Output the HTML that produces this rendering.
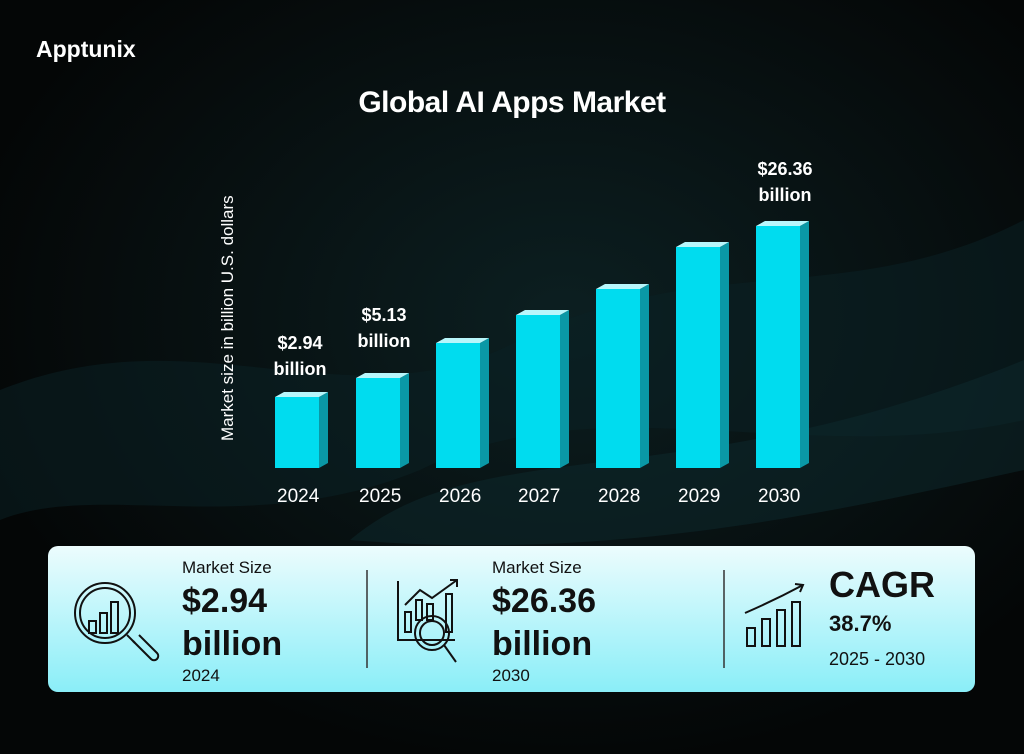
<!DOCTYPE html>
<html><head><meta charset="utf-8"><style>
*{margin:0;padding:0;box-sizing:border-box}
body{width:1024px;height:754px;overflow:hidden;background:#040606;font-family:"Liberation Sans",sans-serif;position:relative}
.t{position:absolute;color:#fff;font-weight:bold}
</style></head><body>
<svg width="1024" height="754" style="position:absolute;left:0;top:0">
<defs>
<radialGradient id="g1" cx="0.55" cy="0.42" r="0.6"><stop offset="0" stop-color="#0c1f21"/><stop offset="1" stop-color="#040606"/></radialGradient>
<linearGradient id="pn" x1="0" y1="0" x2="0" y2="1"><stop offset="0" stop-color="#ecfcfd"/><stop offset="1" stop-color="#8aeef8"/></linearGradient>
</defs>
<rect width="1024" height="754" fill="url(#g1)"/>
<path d="M0,390 C200,310 350,430 520,340 C700,250 850,310 1024,220 L1024,420 C800,470 600,380 420,470 C250,540 100,480 0,520Z" fill="#0b2124" opacity="0.55"/>
<path d="M350,540 C480,430 680,500 1024,360 L1024,470 C800,520 600,560 350,540Z" fill="#0e2a2d" opacity="0.5"/>
<g fill="#00dcef">
<rect x="275" y="397" width="44" height="71"/>
<rect x="356" y="378" width="44" height="90"/>
<rect x="436" y="343" width="44" height="125"/>
<rect x="516" y="315" width="44" height="153"/>
<rect x="596" y="289" width="44" height="179"/>
<rect x="676" y="247" width="44" height="221"/>
<rect x="756" y="226" width="44" height="242"/>
</g>
<g fill="#0a98a6">
<polygon points="319,397 328,392 328,463 319,468"/>
<polygon points="400,378 409,373 409,463 400,468"/>
<polygon points="480,343 489,338 489,463 480,468"/>
<polygon points="560,315 569,310 569,463 560,468"/>
<polygon points="640,289 649,284 649,463 640,468"/>
<polygon points="720,247 729,242 729,463 720,468"/>
<polygon points="800,226 809,221 809,463 800,468"/>
</g>
<g fill="#b8f6fb">
<polygon points="275,397 284,392 328,392 319,397"/>
<polygon points="356,378 365,373 409,373 400,378"/>
<polygon points="436,343 445,338 489,338 480,343"/>
<polygon points="516,315 525,310 569,310 560,315"/>
<polygon points="596,289 605,284 649,284 640,289"/>
<polygon points="676,247 685,242 729,242 720,247"/>
<polygon points="756,226 765,221 809,221 800,226"/>
</g>
<rect x="48" y="546" width="927" height="146" rx="10" fill="url(#pn)"/>
<line x1="367" y1="570" x2="367" y2="668" stroke="#333" stroke-width="1.5"/>
<line x1="724" y1="570" x2="724" y2="668" stroke="#333" stroke-width="1.5"/>
<g fill="none" stroke="#111" stroke-width="2">
<circle cx="105" cy="613" r="30"/><circle cx="105" cy="613" r="25"/>
<line x1="127" y1="635" x2="135" y2="643"/>
<path d="M133,641 L151,659 a4,4 0 0 0 6,-6 L139,635"/>
<rect x="89" y="621" width="7" height="12"/><rect x="100" y="613" width="7" height="20"/><rect x="111" y="602" width="7" height="31"/>
<path d="M398,581 L398,640 L455,640"/>
<rect x="405" y="612" width="6" height="20"/><rect x="416" y="600" width="6" height="20"/><rect x="427" y="604" width="6" height="16"/><rect x="446" y="594" width="6" height="38"/>
<path d="M405,605 L420,590 L432,598 L457,580"/><path d="M450,580 L457,580 L457,587"/>
<circle cx="432" cy="633" r="17"/><circle cx="432" cy="633" r="12"/>
<line x1="444" y1="645" x2="456" y2="662"/>
<rect x="747" y="628" width="8" height="18"/><rect x="762" y="619" width="8" height="27"/><rect x="777" y="610" width="8" height="36"/><rect x="792" y="602" width="8" height="44"/>
<path d="M745,613 Q775,600 803,585"/><path d="M795,584 L803,585 L800,592"/>
</g>
</svg>
<div class="t" style="left:36px;top:36px;font-size:23px">Apptunix</div>
<div class="t" style="left:0;width:1024px;text-align:center;top:86px;font-size:30px;letter-spacing:-0.5px">Global AI Apps Market</div>
<div class="t" style="left:218px;top:441px;font-size:17px;font-weight:normal;transform-origin:0 0;transform:rotate(-90deg);white-space:nowrap">Market size in billion U.S. dollars</div>
<div class="t" style="left:258px;top:330px;width:84px;text-align:center;font-size:18px;line-height:26px">$2.94<br>billion</div>
<div class="t" style="left:342px;top:302px;width:84px;text-align:center;font-size:18px;line-height:26px">$5.13<br>billion</div>
<div class="t" style="left:738px;top:156px;width:94px;text-align:center;font-size:18px;line-height:26px">$26.36<br>billion</div>
<div class="t" style="left:262px;top:486px;width:760px;font-size:19px;font-weight:normal">
<span style="position:absolute;left:15px">2024</span><span style="position:absolute;left:97px">2025</span><span style="position:absolute;left:177px">2026</span><span style="position:absolute;left:256px">2027</span><span style="position:absolute;left:336px">2028</span><span style="position:absolute;left:416px">2029</span><span style="position:absolute;left:496px">2030</span></div>
<div style="position:absolute;left:182px;top:558px;color:#111">
<div style="font-size:17px">Market Size</div>
<div style="font-size:34px;font-weight:bold;line-height:46px">$2.94</div>
<div style="font-size:34px;font-weight:bold;line-height:40px">billion</div>
<div style="font-size:17px;margin-top:2px">2024</div></div>
<div style="position:absolute;left:492px;top:558px;color:#111">
<div style="font-size:17px">Market Size</div>
<div style="font-size:34px;font-weight:bold;line-height:46px">$26.36</div>
<div style="font-size:34px;font-weight:bold;line-height:40px">billion</div>
<div style="font-size:17px;margin-top:2px">2030</div></div>
<div style="position:absolute;left:829px;top:563px;color:#111">
<div style="font-size:36px;font-weight:bold;line-height:44px">CAGR</div>
<div style="font-size:22px;font-weight:bold;line-height:34px">38.7%</div>
<div style="font-size:18px;line-height:36px">2025 - 2030</div></div>
</body></html>
